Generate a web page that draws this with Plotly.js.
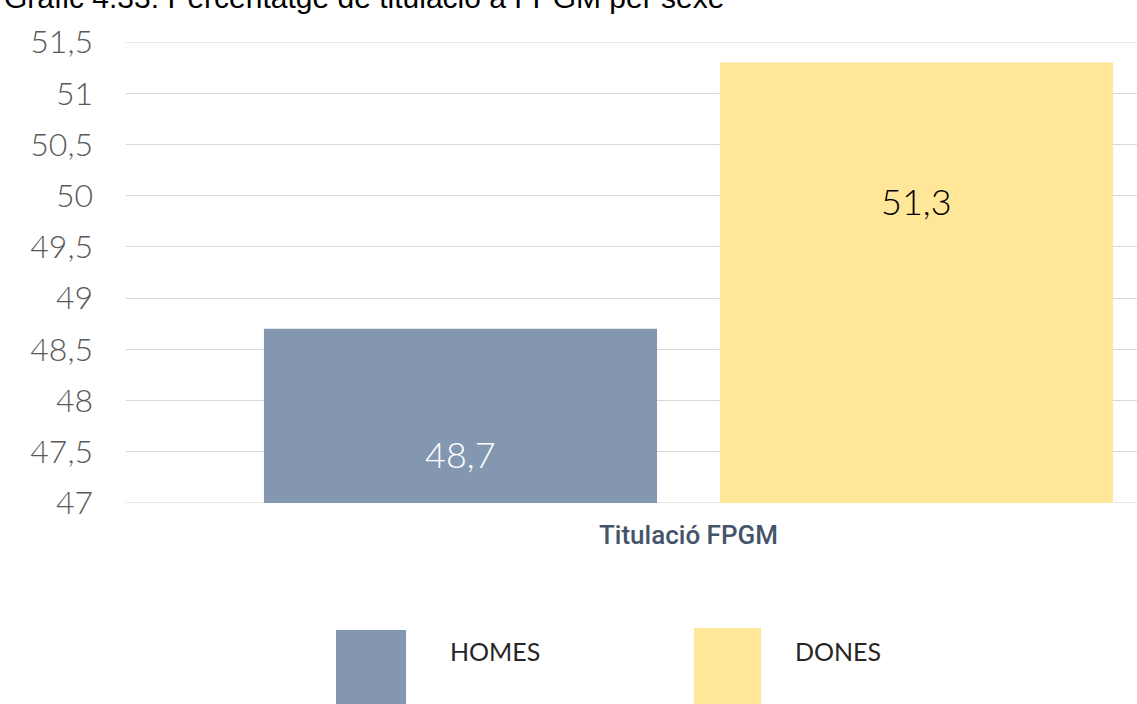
<!DOCTYPE html>
<html>
<head>
<meta charset="utf-8">
<script src="https://cdn.plot.ly/plotly-3.0.1.min.js"></script>
<style>
  html, body { margin: 0; padding: 0; background: #ffffff; }
  #chart { width: 1137px; height: 704px; }
</style>
</head>
<body>
<div id="chart"></div>
<script>
// Percentatge de titulació a FPGM per sexe
const categories = ["Titulació FPGM"];
const seriesNames = ["HOMES", "DONES"];
const homes = [48.7];
const dones = [51.3];
const yTickVals = [47, 47.5, 48, 48.5, 49, 49.5, 50, 50.5, 51, 51.5];

const colors = { HOMES: "#8497b0", DONES: "#ffe699" };
const labelColors = { HOMES: "#ffffff", DONES: "#000000" };
const labelY = { HOMES: 0.106, DONES: 0.655 };
const seriesValues = { HOMES: homes, DONES: dones };
const gridColor = "#d9d9d9";

const fmt = v => String(v).replace(".", ",");

const traces = seriesNames.map(name => ({
  type: "bar",
  name: name,
  x: categories,
  y: seriesValues[name],
  marker: { color: colors[name] },
  hoverinfo: "skip",
  showlegend: false
}));

// Value labels inside the bars
const slotOffset = 228;
const valueLabels = seriesNames.map((name, i) => ({
  xref: "x", yref: "paper",
  x: categories[0], y: labelY[name],
  xshift: (i === 0 ? -1 : 1) * slotOffset,
  text: fmt(seriesValues[name][0]),
  showarrow: false,
  font: { family: "Lato", size: 36, color: labelColors[name], weight: 300 },
  xanchor: "center", yanchor: "middle"
}));

// Legend drawn as large swatches with labels
const legendBoxes = [
  { name: "HOMES", x0: 0.2077, x1: 0.2770, y0: -0.2755, textX: 0.3185 },
  { name: "DONES", x0: 0.5618, x1: 0.6281, y0: -0.2712, textX: 0.6597 }
];
const legendShapes = legendBoxes.map(b => ({
  type: "rect", xref: "paper", yref: "paper",
  x0: b.x0, x1: b.x1, y0: b.y0, y1: -0.6,
  fillcolor: colors[b.name], line: { width: 0 }, layer: "above"
}));
const legendLabels = legendBoxes.map(b => ({
  xref: "paper", yref: "paper", x: b.textX, y: -0.321,
  text: b.name, showarrow: false,
  xanchor: "left", yanchor: "middle",
  font: { family: "Lato", size: 25, color: "#262626" }
}));

// Grid lines at the two ends of the value axis
const edgeLines = [yTickVals[0], yTickVals[yTickVals.length - 1]].map(v => ({
  type: "line", xref: "paper", yref: "y",
  x0: 0, x1: 1, y0: v, y1: v,
  line: { color: gridColor, width: 1 }, layer: "below"
}));

const titleAnno = {
  xref: "paper", yref: "paper", x: -0.1227, y: 1.097,
  xanchor: "left", yanchor: "middle",
  text: "Gràfic 4.33: Percentatge de titulació a FPGM per sexe",
  showarrow: false,
  font: { family: "Liberation Sans, Arial, sans-serif", size: 30, color: "#000000" }
};

const layout = {
  width: 1137, height: 704,
  margin: { l: 126, r: 0, t: 42, b: 201, pad: 0 },
  paper_bgcolor: "#ffffff", plot_bgcolor: "#ffffff",
  separators: ",.",
  barmode: "group",
  bargap: 0.1893,
  bargroupgap: 0.138,
  showlegend: false,
  xaxis: {
    type: "category",
    range: [-0.5, 0.3987],
    showgrid: false, zeroline: false, showline: false,
    ticks: "",
    ticklabelstandoff: 14,
    tickfont: { family: "Roboto", size: 26, color: "#44546a", weight: 500 }
  },
  yaxis: {
    range: [46.999, 51.501],
    tickvals: yTickVals,
    showgrid: true, gridcolor: gridColor, gridwidth: 1,
    zeroline: false, showline: false,
    ticks: "",
    ticklabelstandoff: 32,
    tickfont: { family: "Lato", size: 32, color: "#595959", weight: 300 }
  },
  shapes: [...edgeLines, ...legendShapes],
  annotations: [titleAnno, ...valueLabels, ...legendLabels]
};

Plotly.newPlot("chart", traces, layout, { displayModeBar: false, staticPlot: true });
</script>
</body>
</html>
